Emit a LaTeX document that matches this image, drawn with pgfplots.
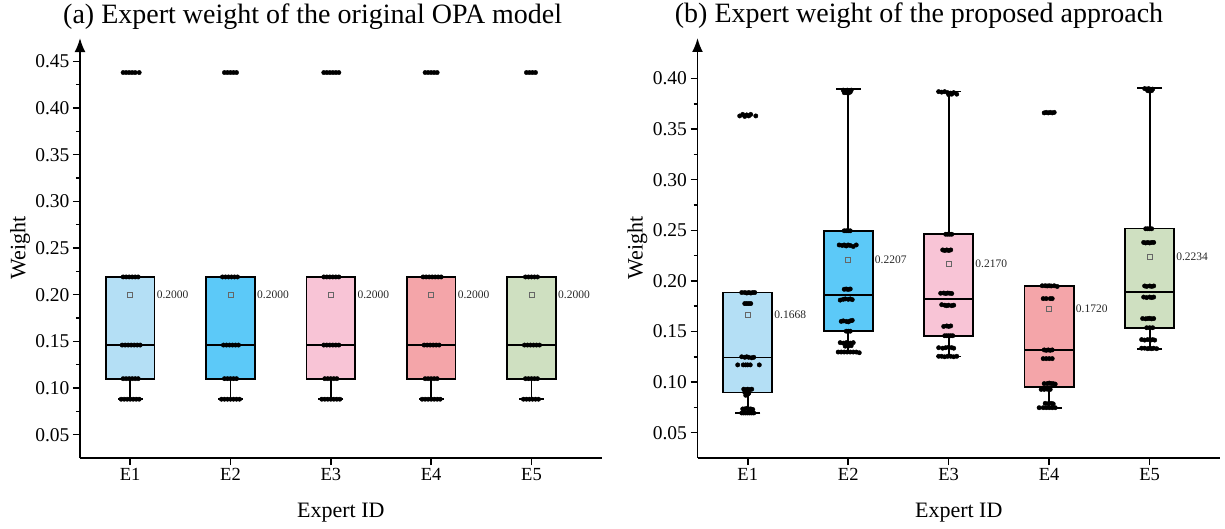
\documentclass[border=0pt]{standalone}
\usepackage{fontspec}
\setmainfont{Liberation Serif}
\usepackage{pgfplots}
\pgfplotsset{compat=1.18}
\usetikzlibrary{arrows.meta}

\definecolor{cA}{RGB}{180,223,245}
\definecolor{cB}{RGB}{92,201,248}
\definecolor{cC}{RGB}{248,196,214}
\definecolor{cD}{RGB}{244,165,169}
\definecolor{cE}{RGB}{207,224,193}

\pgfplotsset{
  myaxis/.style={
    scale only axis, width=521.7pt, height=420pt,
    xmin=0.5, xmax=5.7, ymin=0.025,
    axis x line*=bottom, axis y line*=left,
    axis line style={line width=1.8pt, black},
    y axis line style={-{Latex[length=14pt,width=11pt]}},
    xtick={1,2,3,4,5}, xticklabels={E1,E2,E3,E4,E5},
    minor y tick num=1,
    tick align=outside, major tick length=7pt, minor tick length=4pt,
    tick style={line width=1.5pt, black},
    scaled y ticks=false,
    yticklabel style={/pgf/number format/fixed, /pgf/number format/fixed zerofill,
      /pgf/number format/precision=2, /pgf/number format/assume math mode=true,
      font=\fontsize{19.5}{19.5}\selectfont},
    xticklabel style={font=\fontsize{18.5}{18.5}\selectfont},
    xlabel={Expert ID}, ylabel={Weight},
    label style={font=\fontsize{22}{22}\selectfont},
    xlabel style={at={(axis description cs:0.5,-0.131)}, anchor=center},
    ylabel style={at={(axis description cs:-0.115,0.5)}, anchor=center},
    title style={font=\fontsize{28}{28}\selectfont, anchor=base, yshift=9pt},
    clip=false,
  },
  bxs/.style={draw=black, line width=1.8pt, mark=none, solid},
  wks/.style={draw=black, line width=1.8pt, mark=none, solid},
  caps/.style={only marks, mark=-, mark size=12.5pt, mark options={line width=1.8pt, black}},
  dots/.style={only marks, mark=*, mark size=2.2pt, black},
  means/.style={only marks, mark=square, mark size=2.4pt,
    mark options={draw=black!60, line width=0.7pt, fill=none},
    nodes near coords, point meta=explicit symbolic,
    nodes near coords style={anchor=west, xshift=23pt, text=black!85,
      font=\fontsize{11.5}{11.5}\selectfont}},
}
% #1 left, #2 centre, #3 right, #4 lower whisker, #5 Q1, #6 median, #7 Q3, #8 upper whisker, #9 colour
\newcommand{\bxp}[9]{%
  \addplot[wks] coordinates {(#2,#4) (#2,#5)};
  \addplot[wks] coordinates {(#2,#7) (#2,#8)};
  \addplot[bxs, fill=#9] coordinates {(#1,#5) (#3,#5) (#3,#7) (#1,#7)} --cycle;
  \addplot[bxs] coordinates {(#1,#6) (#3,#6)};
}

\begin{document}
\begin{tikzpicture}
\useasboundingbox (0,0) rectangle (1225pt,-529pt);

% ---------------- (a) ----------------
\begin{axis}[myaxis, at={(80pt,-458pt)}, anchor=south west,
  ymax=0.475, ytick={0.05,0.1,0.15,0.2,0.25,0.3,0.35,0.4,0.45},
  title={(a) Expert weight of the original OPA model},
  title style={at={(axis description cs:0.446,1)}}]
\bxp{0.7575}{1}{1.2425}{0.088}{0.110}{0.146}{0.219}{0.219}{cA}
\bxp{1.7575}{2}{2.2425}{0.088}{0.110}{0.146}{0.219}{0.219}{cB}
\bxp{2.7575}{3}{3.2425}{0.088}{0.110}{0.146}{0.219}{0.219}{cC}
\bxp{3.7575}{4}{4.2425}{0.088}{0.110}{0.146}{0.219}{0.219}{cD}
\bxp{4.7575}{5}{5.2425}{0.088}{0.110}{0.146}{0.219}{0.219}{cE}
\addplot[caps] coordinates {(1,0.088)(2,0.088)(3,0.088)(4,0.088)(5,0.088)};
% dots
\addplot[dots] coordinates {
(0.93,0.438)(0.96,0.438)(0.99,0.438)(1.02,0.438)(1.05,0.438)(1.09,0.438)
(0.93,0.219)(0.96,0.219)(0.99,0.219)(1.02,0.219)(1.05,0.219)(1.08,0.219)
(0.92,0.146)(0.95,0.146)(0.98,0.146)(1.01,0.146)(1.04,0.146)(1.07,0.146)(1.10,0.146)
(0.93,0.110)(0.96,0.110)(0.99,0.110)(1.02,0.110)(1.05,0.110)(1.08,0.110)
(0.91,0.088)(0.94,0.088)(0.97,0.088)(1.00,0.088)(1.03,0.088)(1.06,0.088)(1.09,0.088)
(1.94,0.438)(1.97,0.438)(2.00,0.438)(2.03,0.438)(2.06,0.438)
(1.92,0.219)(1.95,0.219)(1.98,0.219)(2.01,0.219)(2.04,0.219)(2.07,0.219)
(1.93,0.146)(1.96,0.146)(1.99,0.146)(2.02,0.146)(2.05,0.146)(2.08,0.146)
(1.94,0.110)(1.97,0.110)(2.00,0.110)(2.03,0.110)(2.06,0.110)
(1.91,0.088)(1.94,0.088)(1.97,0.088)(2.00,0.088)(2.03,0.088)(2.06,0.088)(2.09,0.088)
(2.93,0.438)(2.96,0.438)(2.99,0.438)(3.02,0.438)(3.05,0.438)(3.08,0.438)
(2.93,0.219)(2.96,0.219)(2.99,0.219)(3.02,0.219)(3.05,0.219)(3.08,0.219)
(2.93,0.146)(2.96,0.146)(2.99,0.146)(3.02,0.146)(3.05,0.146)(3.08,0.146)
(2.94,0.110)(2.97,0.110)(3.00,0.110)(3.03,0.110)(3.06,0.110)
(2.91,0.088)(2.94,0.088)(2.97,0.088)(3.00,0.088)(3.03,0.088)(3.06,0.088)(3.09,0.088)
(3.94,0.438)(3.97,0.438)(4.00,0.438)(4.03,0.438)(4.06,0.438)
(3.92,0.219)(3.95,0.219)(3.98,0.219)(4.01,0.219)(4.04,0.219)(4.07,0.219)(4.10,0.219)
(3.93,0.146)(3.96,0.146)(3.99,0.146)(4.02,0.146)(4.05,0.146)(4.08,0.146)
(3.94,0.110)(3.97,0.110)(4.00,0.110)(4.03,0.110)(4.06,0.110)
(3.91,0.088)(3.94,0.088)(3.97,0.088)(4.00,0.088)(4.03,0.088)(4.06,0.088)(4.09,0.088)
(4.95,0.438)(4.98,0.438)(5.01,0.438)(5.04,0.438)
(4.94,0.219)(4.97,0.219)(5.00,0.219)(5.03,0.219)(5.06,0.219)
(4.93,0.146)(4.96,0.146)(4.99,0.146)(5.02,0.146)(5.05,0.146)(5.08,0.146)
(4.94,0.110)(4.97,0.110)(5.00,0.110)(5.03,0.110)(5.06,0.110)
(4.92,0.088)(4.95,0.088)(4.98,0.088)(5.01,0.088)(5.04,0.088)(5.07,0.088)
};
\addplot[means] coordinates {(1,0.2)[0.2000] (2,0.2)[0.2000] (3,0.2)[0.2000] (4,0.2)[0.2000] (5,0.2)[0.2000]};
\end{axis}

% ---------------- (b) ----------------
\begin{axis}[myaxis, at={(697.5pt,-458pt)}, anchor=south west, width=522.5pt,
  ymax=0.44, ytick={0.05,0.1,0.15,0.2,0.25,0.3,0.35,0.4},
  title={(b) Expert weight of the proposed approach},
  title style={at={(axis description cs:0.424,1)}}]
\bxp{0.755}{1}{1.245}{0.0695}{0.0897}{0.1243}{0.1885}{0.1885}{cA}
\bxp{1.755}{2}{2.245}{0.1297}{0.1503}{0.1857}{0.2495}{0.3898}{cB}
\bxp{2.755}{3}{3.245}{0.1252}{0.1458}{0.1818}{0.2461}{0.3872}{cC}
\bxp{3.755}{4}{4.245}{0.0747}{0.0955}{0.1314}{0.1952}{0.1952}{cD}
\bxp{4.755}{5}{5.245}{0.1330}{0.1537}{0.1888}{0.2518}{0.3904}{cE}
\addplot[caps] coordinates {(1,0.0695)(2,0.1297)(2,0.3898)(3,0.1252)(3,0.3872)(4,0.0747)(5,0.1330)(5,0.3904)};
% dots
\addplot[dots] coordinates {
(0.92,0.3630)(0.95,0.3645)(0.97,0.3625)(0.99,0.3640)(1.01,0.3630)(1.03,0.3645)(1.08,0.3630)
(0.94,0.1885)(0.97,0.1885)(0.99,0.1880)(1.01,0.1885)(1.03,0.1880)(1.05,0.1885)(1.07,0.1885)
(0.97,0.1776)(0.99,0.1776)(1.01,0.1776)(1.03,0.1776)
(0.94,0.1250)(0.97,0.1245)(0.99,0.1250)(1.01,0.1245)(1.04,0.1240)(1.06,0.1245)
(0.90,0.1170)(0.955,0.1170)(0.98,0.1170)(1.00,0.1170)(1.025,0.1170)(1.115,0.1170)
(0.96,0.0930)(0.98,0.0925)(1.00,0.0930)(1.02,0.0925)(1.04,0.0930)
(0.97,0.0900)(0.99,0.0895)(1.01,0.0890)(0.98,0.0870)(1.00,0.0880)
(0.95,0.0735)(0.97,0.0735)(0.99,0.0740)(1.01,0.0735)(1.03,0.0735)(1.05,0.0730)
(0.94,0.0695)(0.96,0.0695)(0.98,0.0695)(1.00,0.0695)(1.02,0.0695)(1.04,0.0695)(1.06,0.0695)
(1.95,0.3885)(1.97,0.3880)(1.99,0.3885)(2.01,0.3880)(2.03,0.3885)(1.96,0.3860)(1.98,0.3860)(2.00,0.3855)(2.02,0.3865)
(1.96,0.2495)(1.98,0.2495)(2.00,0.2495)(2.02,0.2495)
(1.91,0.2355)(1.94,0.2350)(1.96,0.2355)(1.98,0.2345)(2.00,0.2355)(2.02,0.2350)(2.05,0.2340)(2.08,0.2355)
(1.96,0.1917)(1.98,0.1920)(2.00,0.1915)(2.02,0.1920)
(1.92,0.1810)(1.95,0.1818)(1.97,0.1822)(2.00,0.1818)(2.02,0.1822)(2.04,0.1815)
(1.93,0.1600)(1.95,0.1605)(1.98,0.1600)(2.00,0.1595)(2.02,0.1605)(2.04,0.1610)
(1.98,0.1503)(2.00,0.1503)(2.02,0.1503)
(1.92,0.1390)(1.95,0.1385)(1.98,0.1390)(2.02,0.1385)(2.05,0.1390)
(1.97,0.1355)(2.00,0.1355)(2.03,0.1360)
(1.90,0.1297)(1.93,0.1297)(1.96,0.1297)(1.99,0.1297)(2.02,0.1297)(2.05,0.1297)(2.08,0.1297)(2.11,0.1290)
(2.90,0.3870)(2.93,0.3865)(2.96,0.3870)(2.99,0.3860)(3.02,0.3855)(3.05,0.3860)(3.08,0.3845)(3.00,0.3840)(3.03,0.3845)
(2.97,0.2461)(2.99,0.2461)(3.01,0.2461)(3.03,0.2461)
(2.94,0.2306)(2.96,0.2300)(2.98,0.2306)(3.00,0.2300)(3.02,0.2306)
(2.92,0.1878)(2.95,0.1880)(2.97,0.1875)(2.99,0.1880)(3.01,0.1878)(3.03,0.1875)
(2.93,0.1765)(2.96,0.1760)(2.98,0.1755)(3.00,0.1760)(3.03,0.1755)(3.05,0.1760)
(2.95,0.1550)(2.98,0.1555)(3.00,0.1550)(3.02,0.1555)
(2.96,0.1458)(2.98,0.1458)(3.00,0.1458)(3.02,0.1458)(3.04,0.1458)
(2.90,0.1340)(2.94,0.1335)(2.97,0.1340)(3.00,0.1345)(3.03,0.1340)(3.05,0.1335)
(2.90,0.1255)(2.93,0.1255)(2.96,0.1250)(2.99,0.1255)(3.02,0.1255)(3.05,0.1250)(3.08,0.1255)
(3.95,0.3660)(3.97,0.3665)(3.99,0.3660)(4.01,0.3665)(4.03,0.3660)(4.05,0.3665)
(3.93,0.1952)(3.96,0.1952)(3.98,0.1950)(4.00,0.1952)(4.02,0.1950)(4.05,0.1952)(4.08,0.1945)
(3.94,0.1825)(3.97,0.1825)(4.01,0.1825)(4.03,0.1825)
(3.95,0.1318)(3.97,0.1314)(3.99,0.1318)(4.01,0.1314)(4.03,0.1318)
(3.94,0.1232)(3.97,0.1232)(4.00,0.1232)(4.03,0.1232)
(3.95,0.0985)(3.98,0.0985)(4.00,0.0990)(4.02,0.0985)(4.04,0.0985)(4.06,0.0980)
(3.92,0.0928)(3.95,0.0928)(3.98,0.0930)(4.01,0.0928)
(3.96,0.0790)(3.99,0.0787)(4.02,0.0790)(4.04,0.0785)
(3.90,0.0747)(3.94,0.0747)(3.97,0.0747)(4.00,0.0747)(4.03,0.0747)(4.06,0.0747)
(4.95,0.3900)(4.97,0.3895)(4.99,0.3900)(5.01,0.3890)(5.03,0.3895)(4.98,0.3880)(5.00,0.3875)(5.02,0.3880)
(4.96,0.2515)(4.98,0.2515)(5.00,0.2515)(5.02,0.2515)
(4.94,0.2380)(4.96,0.2375)(4.98,0.2380)(5.00,0.2375)(5.02,0.2380)(5.04,0.2380)
(4.95,0.1950)(4.97,0.1945)(5.00,0.1950)(5.02,0.1945)(5.04,0.1950)
(4.94,0.1840)(4.97,0.1835)(5.00,0.1840)(5.02,0.1835)(5.04,0.1840)
(4.93,0.1628)(4.96,0.1625)(4.98,0.1628)(5.00,0.1630)(5.02,0.1625)(5.04,0.1628)
(4.97,0.1537)(5.00,0.1537)(5.03,0.1537)
(4.92,0.1420)(4.95,0.1415)(4.98,0.1420)(5.01,0.1415)(5.03,0.1420)(5.05,0.1415)
(4.92,0.1335)(4.95,0.1335)(4.98,0.1330)(5.00,0.1335)(5.02,0.1330)(5.04,0.1335)(5.07,0.1330)
};
\addplot[means] coordinates {(1,0.1668)[0.1668] (2,0.2207)[0.2207] (3,0.2170)[0.2170] (4,0.1720)[0.1720] (5,0.2234)[0.2234]};
\end{axis}
\end{tikzpicture}
\end{document}
